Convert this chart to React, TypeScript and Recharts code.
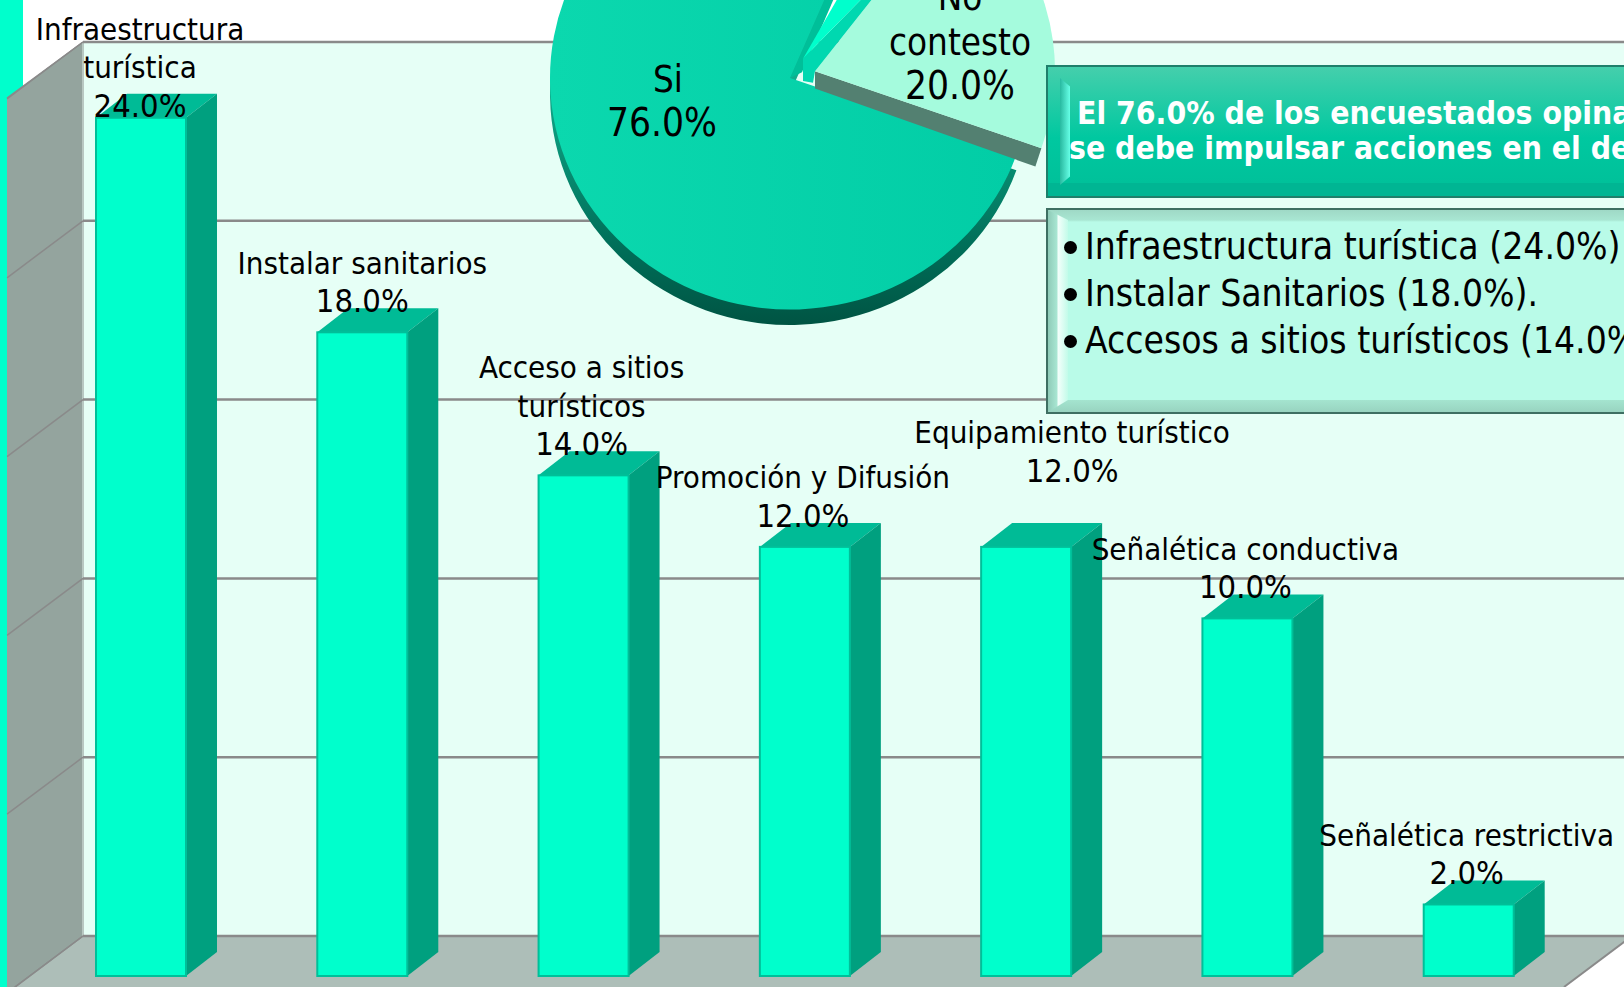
import React from "react";
import { BarChart, Bar, XAxis, YAxis, CartesianGrid, PieChart, Pie, Sector, Cell } from "recharts";

const categories = [
  "Infraestructura\nturística",
  "Instalar sanitarios",
  "Acceso a sitios\nturísticos",
  "Promoción y Difusión",
  "Equipamiento turístico",
  "Señalética conductiva",
  "Señalética restrictiva",
];
const percents = [24, 18, 14, 12, 12, 10, 2];
const yTicks = [0, 5, 10, 15, 20, 25];

const pieNames = ["Si", "No\ncontesto", "Otros"];
const pieValues = [76, 20, 4];

const headline = ["El 76.0% de los encuestados opina", "se debe impulsar acciones en el de"];
const bullets = [
  "Infraestructura turística (24.0%)",
  "Instalar Sanitarios (18.0%).",
  "Accesos a sitios turísticos (14.0%",
];

const barData = categories.map((name, i) => ({ name, value: percents[i] }));
const pieData = pieNames.map((name, i) => ({ name, value: pieValues[i] }));

const W = 1624;
const H = 987;
const FONT = "'DejaVu Sans Condensed', 'DejaVu Sans', sans-serif";

// label nudges, the original labels were dragged around by hand
const labelShift = [
  { dx: -1, dy: 18 },
  { dx: 0, dy: -1 },
  { dx: -2, dy: -1 },
  { dx: -2, dy: -1 },
  { dx: 46, dy: -46 },
  { dx: -2, dy: -1 },
  { dx: -2, dy: -1 },
];
// slice offsets from the pie centre, turn rotates the sliver a little
const sliceShift = [
  { dx: 0, dy: 0, turn: 0 },
  { dx: 25, dy: -7, turn: 0 },
  { dx: 13, dy: -20, turn: -6 },
];
const SQUASH = 0.965;

const Bar3D = (props: any) => {
  const { x, y, width, height } = props;
  const dx = 31;
  const dy = 24;
  const r = x + width;
  const b = y + height;
  return (
    <g>
      <polygon points={`${x},${y} ${x + dx},${y - dy} ${r + dx},${y - dy} ${r},${y}`} fill="#00bb96" />
      <polygon points={`${r},${y} ${r + dx},${y - dy} ${r + dx},${b - dy} ${r},${b}`} fill="#00a07f" />
      <rect x={x} y={y} width={width} height={height} fill="#00ffcc" stroke="#00bf99" strokeWidth={2} />
    </g>
  );
};

const BarLabel = (props: any) => {
  const { x, y, width, index, value } = props;
  const shift = labelShift[index];
  const lines = categories[index].split("\n");
  const cx = x + width / 2 + shift.dx;
  const last = y - 19 + shift.dy;
  return (
    <text textAnchor="middle" fontFamily={FONT} fontSize={31} fill="#000">
      {lines.map((line, i) => (
        <tspan key={i} x={cx} y={last - (lines.length - i) * 38.5}>
          {line}
        </tspan>
      ))}
      <tspan x={cx} y={last} fontSize={32.5}>{`${value.toFixed(1)}%`}</tspan>
    </text>
  );
};

const gridLine = (props: any) => {
  const { x1, y1, key } = props;
  const back = y1 - 40;
  return (
    <g key={key ?? y1}>
      <line x1={7} y1={back + 57} x2={83} y2={back} stroke="#8a8a8a" strokeWidth={1.5} />
      <line x1={83} y1={back} x2={W} y2={back} stroke="#8a8a8a" strokeWidth={2.5} />
    </g>
  );
};

const point = (cx: number, cy: number, r: number, deg: number) => {
  const a = (deg * Math.PI) / 180;
  return [cx + r * Math.cos(a), cy - r * Math.sin(a)];
};

const Slice = (props: any) => {
  const { cx, cy, outerRadius, startAngle, endAngle, fill, index } = props;
  const s = sliceShift[index] ?? sliceShift[0];
  const px = cx + s.dx;
  const py = cy + s.dy;
  const from = startAngle + s.turn;
  const to = endAngle + s.turn;
  const base = { innerRadius: 0, outerRadius, startAngle: from, endAngle: to };
  const squash = `translate(0 ${cy}) scale(1 ${SQUASH}) translate(0 ${-cy})`;
  if (index === 0) {
    const [ex, ey] = point(px, py, outerRadius, from);
    return (
      <g transform={squash}>
        <Sector {...base} cx={px} cy={py + 16} fill="url(#rim)" />
        <polygon points={`${px},${py} ${ex},${ey} ${ex + 8},${ey} ${px + 12},${py - 6}`} fill="#00bf99" />
        <Sector {...base} cx={px} cy={py} fill={fill} />
      </g>
    );
  }
  if (index === 1) {
    const [ex, ey] = point(px, py, outerRadius, from);
    return (
      <g transform={squash}>
        <polygon points={`${px},${py} ${ex},${ey} ${ex - 6},${ey + 19} ${px},${py + 18}`} fill="#538071" />
        <Sector {...base} cx={px} cy={py} fill={fill} />
      </g>
    );
  }
  // sliver: its side wall stops against the edge of the neighbouring slice
  const [fx, fy] = point(px, py, outerRadius, from);
  const nx = cx + sliceShift[1].dx;
  const ny = cy + sliceShift[1].dy;
  const [gx, gy] = point(nx, ny, outerRadius, startAngle);
  return (
    <g transform={squash}>
      <polygon points={`${px},${py} ${fx},${fy} ${gx},${gy} ${nx},${ny} ${nx - 2},${py + 25} ${px},${py + 23}`} fill="#00d8b0" />
      <Sector {...base} cx={px} cy={py} fill={fill} />
    </g>
  );
};

const SliceLabel = (props: any) => {
  const { index, cx, cy, value } = props;
  if (index === 2) return null;
  const pos = index === 0 ? [-128, 58] : [170, 21];
  const lines = pieNames[index].split("\n");
  const lx = cx + pos[0];
  const last = cy + pos[1];
  return (
    <text textAnchor="middle" fontFamily={FONT} fontSize={36.5} fill="#000">
      {lines.map((line, i) => (
        <tspan key={i} x={lx + (index === 0 ? 6 : 0)} y={last - (lines.length - i) * 44.5}>
          {line}
        </tspan>
      ))}
      <tspan x={lx} y={last} fontSize={38.5}>{`${value.toFixed(1)}%`}</tspan>
    </text>
  );
};

const layer: React.CSSProperties = { position: "absolute", left: 0, top: 0 };

export default function App() {
  return (
    <div style={{ position: "absolute", left: 0, top: 0, width: W, height: H, overflow: "hidden", background: "#fff" }}>
      <svg width={W} height={H} style={layer}>
        <rect x={0} y={0} width={23} height={H} fill="#00ffcc" />
        <rect x={83} y={42} width={W - 83} height={894} fill="#e6fff6" />
        <polygon points={`83,936 1632,936 1564,987 15,987`} fill="#adbeb8" />
        <polygon points="7,98 83,42 83,936 7,993" fill="#94a49e" />
        <line x1={7} y1={98} x2={83} y2={42} stroke="#8a8a8a" strokeWidth={1.5} />
        <line x1={83} y1={42} x2={83} y2={936} stroke="#b8c8c2" strokeWidth={2} />
        <line x1={15} y1={987} x2={83} y2={936} stroke="#8a8a8a" strokeWidth={1.5} />
        <line x1={1564} y1={987} x2={1632} y2={936} stroke="#8a8a8a" strokeWidth={2} />
      </svg>

      <div style={layer}>
        <BarChart
          width={W}
          height={H}
          data={barData}
          barCategoryGap="59%"
          margin={{ top: 82, right: 45, bottom: 11, left: 30 }}
        >
          <CartesianGrid horizontal={gridLine} vertical={false} />
          <XAxis dataKey="name" hide />
          <YAxis domain={[0, 25]} ticks={yTicks} hide />
          <Bar dataKey="value" barSize={90} shape={Bar3D} label={BarLabel} isAnimationActive={false} />
        </BarChart>
      </div>

      <div style={layer}>
        <PieChart width={W} height={H} margin={{ top: 0, right: 0, bottom: 0, left: 0 }}>
          <defs>
            <linearGradient id="rim" x1="0" y1="0" x2="0" y2="1">
              <stop offset="0.45" stopColor="#12b08f" />
              <stop offset="0.82" stopColor="#00705a" />
              <stop offset="1" stopColor="#005443" />
            </linearGradient>
            <linearGradient id="si" x1="0" y1="0" x2="1" y2="0">
              <stop offset="0" stopColor="#0bd8ae" />
              <stop offset="1" stopColor="#02cda6" />
            </linearGradient>
          </defs>
          <Pie
            data={pieData}
            dataKey="value"
            cx={790}
            cy={78}
            innerRadius={0}
            outerRadius={240}
            startAngle={67}
            endAngle={427}
            stroke="none"
            labelLine={false}
            label={SliceLabel}
            shape={Slice}
            isAnimationActive={false}
          >
            <Cell fill="url(#si)" />
            <Cell fill="#a5fbdd" />
            <Cell fill="#00ffcc" />
          </Pie>
        </PieChart>
      </div>

      {/* green headline box */}
      <div
        style={{
          position: "absolute",
          left: 1046,
          top: 65,
          width: 600,
          height: 133,
          boxSizing: "border-box",
          border: "2px solid #1f7f6b",
          background: "linear-gradient(#45cfac 0%, #00c8a0 55%, #00c19a 90%, #00b593 90%, #00b593 100%)",
          overflow: "hidden",
        }}
      >
        <div
          style={{
            position: "absolute",
            left: 12,
            top: 11,
            width: 10,
            height: 107,
            background: "linear-gradient(90deg, #28b9a0, #66ffe6)",
            clipPath: "polygon(0 0, 100% 8%, 100% 92%, 0 100%)",
          }}
        />
        {headline.map((line, i) => (
          <div
            key={i}
            style={{
              position: "absolute",
              left: i === 0 ? 29 : 21,
              top: 28 + i * 35,
              font: `bold 31.6px ${FONT}`,
              lineHeight: "36px",
              color: "#fff",
              whiteSpace: "nowrap",
            }}
          >
            {line}
          </div>
        ))}
      </div>

      {/* pale list box */}
      <div
        style={{
          position: "absolute",
          left: 1046,
          top: 208,
          width: 600,
          height: 206,
          boxSizing: "border-box",
          border: "2px solid #3e6f62",
          background: "linear-gradient(#9fd9c6 0, #a8e6d2 10px, #b9fbe8 12px, #b9fbe8 190px, #a4e4cf 190px, #98d4c0 100%)",
          overflow: "hidden",
        }}
      >
        <div
          style={{
            position: "absolute",
            left: 0,
            top: 0,
            width: 20,
            height: 202,
            background: "linear-gradient(90deg, #8fcbb8 0, #a8e6d2 9px, #f4fffb 10px, #c2fbe9 20px)",
            clipPath: "polygon(0 0, 100% 5%, 100% 94%, 0 100%)",
          }}
        />
        {bullets.map((line, i) => (
          <div
            key={i}
            style={{
              position: "absolute",
              left: 37,
              top: 14 + i * 47,
              font: `36.9px ${FONT}`,
              lineHeight: "46px",
              color: "#000",
              whiteSpace: "nowrap",
            }}
          >
            <span
              style={{
                position: "absolute",
                left: -21,
                top: 17,
                width: 13,
                height: 13,
                borderRadius: "50%",
                background: "#000",
              }}
            />
            {line}
          </div>
        ))}
      </div>
    </div>
  );
}
